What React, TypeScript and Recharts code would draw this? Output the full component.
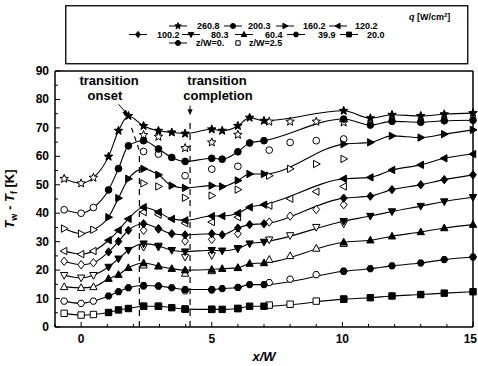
import React from 'react';
import { ComposedChart, Line, Scatter, XAxis, YAxis, ReferenceLine, ReferenceDot, Legend } from 'recharts';

const FONT = '"Liberation Sans", Arial, sans-serif';

// x/W stations of the z/W = 0 curves and of the z/W = 2.5 symbols
const lineX = [-0.65, 0, 0.47, 1.05, 1.43, 1.81, 2.39, 2.96, 3.47, 3.98, 5.0, 5.4, 6.0, 6.45, 7.0, 10.05, 11.07, 11.9, 13.0, 13.9, 15.0];
const openX = [2.39, 2.96, 3.98, 5.0, 6.0, 7.2, 8.0, 9.0, 10.05];

const qLabels = ['260.8', '200.3', '160.2', '120.2', '100.2', '80.3', '60.4', '39.9', '20.0'];
const xTicks = [-1, 0, 1, 2, 3, 4, 5, 6, 7, 8, 9, 10, 11, 12, 13, 14, 15];
const yTicks = [0, 5, 10, 15, 20, 25, 30, 35, 40, 45, 50, 55, 60, 65, 70, 75, 80, 85, 90];

// Tw - Tf [K] at z/W = 0
const q260 = [52.1, 50.5, 52.5, 59.9, 69.0, 74.2, 70.7, 69.0, 68.4, 68.0, 69.5, 69.0, 70.7, 73.6, 72.5, 76.0, 73.4, 74.6, 74.2, 74.8, 75.2];
const q200 = [41.2, 40.0, 42.0, 48.2, 55.7, 63.7, 65.5, 62.6, 59.6, 58.2, 59.3, 59.0, 61.6, 64.7, 65.5, 73.1, 71.0, 72.3, 72.0, 72.5, 72.7];
const q160 = [34.6, 32.8, 34.2, 38.6, 45.3, 52.1, 55.6, 53.5, 49.7, 48.9, 49.7, 49.4, 51.5, 53.8, 53.8, 64.3, 64.9, 67.2, 66.6, 67.8, 69.3];
const q120 = [26.7, 25.6, 26.7, 30.5, 34.0, 38.0, 42.1, 40.4, 38.0, 37.5, 39.0, 39.0, 40.0, 42.1, 43.0, 52.1, 52.6, 55.2, 57.0, 59.3, 60.8];
const q100 = [23.1, 21.9, 22.6, 26.4, 30.1, 34.0, 36.3, 34.6, 32.8, 32.4, 32.8, 32.4, 34.8, 36.0, 36.3, 45.3, 46.0, 48.3, 50.0, 51.8, 53.5];
const q80 = [18.2, 17.3, 18.2, 21.1, 24.0, 27.0, 29.3, 28.5, 27.0, 26.5, 27.0, 26.8, 27.6, 29.3, 29.9, 37.2, 39.0, 40.6, 42.5, 44.1, 45.6];
const q60 = [14.1, 13.8, 14.1, 17.0, 18.4, 20.8, 22.5, 21.4, 20.5, 20.0, 20.2, 20.5, 20.8, 22.3, 22.5, 29.8, 30.5, 31.9, 33.4, 34.8, 36.0];
const q40 = [9.1, 8.3, 9.1, 10.9, 12.4, 13.8, 14.6, 14.4, 13.8, 13.2, 13.2, 13.5, 13.9, 14.9, 14.9, 19.6, 20.5, 21.5, 22.5, 23.7, 24.6];
const q20 = [4.8, 4.2, 4.4, 5.1, 6.0, 6.5, 7.3, 7.3, 6.8, 6.3, 6.2, 6.2, 6.5, 7.3, 7.3, 9.8, 10.3, 10.9, 11.4, 11.9, 12.4];

// Tw - Tf [K] at z/W = 2.5 (open symbols)
const q260o = [67.5, 66.9, 62.9, 64.9, 67.6, 72.2, 72.2, 72.2, 71.9];
const q200o = [61.7, 60.8, 53.2, 55.5, 56.5, 62.2, 64.9, 65.5, 66.1];
const q160o = [50.5, 49.4, 45.4, 46.2, 48.3, 53.2, 55.6, 57.3, 59.1];
const q120o = [40.4, 39.5, 36.5, 36.9, 38.6, 42.7, 45.1, 47.6, 49.4];
const q100o = [34.0, 34.4, 30.2, 30.8, 32.8, 36.9, 39.0, 41.3, 43.0];
const q80o = [28.1, 28.1, 24.6, 25.2, 27.6, 30.7, 32.2, 35.1, 36.3];
const q60o = [21.7, 21.4, 18.8, 19.7, 20.8, 23.7, 25.0, 27.6, 29.3];
const q40o = [14.4, 14.4, 12.7, 13.0, 13.9, 15.6, 16.8, 18.4, 19.6];
const q20o = [7.3, 7.3, 6.3, 6.2, 6.5, 7.7, 8.0, 9.1, 9.8];

const shapes = ['star', 'circle', 'triRight', 'triLeft', 'diamond', 'triDown', 'tri', 'hex', 'square'];
const lineVals = [q260, q200, q160, q120, q100, q80, q60, q40, q20];
const openVals = [q260o, q200o, q160o, q120o, q100o, q80o, q60o, q40o, q20o];

const series = qLabels.map((q, i) => ({
  q,
  shape: shapes[i],
  line: lineX.map((x, j) => ({ x, y: lineVals[i][j] })),
  open: openX.map((x, j) => ({ x, y: openVals[i][j] })),
}));

function markerPath(shape: string, cx: number, cy: number, r: number) {
  switch (shape) {
    case 'square':
      return `M${cx - r},${cy - r}h${2 * r}v${2 * r}h${-2 * r}Z`;
    case 'tri':
      return `M${cx},${cy - r * 1.25}L${cx + r * 1.15},${cy + r * 0.85}L${cx - r * 1.15},${cy + r * 0.85}Z`;
    case 'triDown':
      return `M${cx},${cy + r * 1.25}L${cx + r * 1.15},${cy - r * 0.85}L${cx - r * 1.15},${cy - r * 0.85}Z`;
    case 'triLeft':
      return `M${cx - r * 1.25},${cy}L${cx + r * 0.85},${cy - r * 1.15}L${cx + r * 0.85},${cy + r * 1.15}Z`;
    case 'triRight':
      return `M${cx + r * 1.25},${cy}L${cx - r * 0.85},${cy - r * 1.15}L${cx - r * 0.85},${cy + r * 1.15}Z`;
    case 'diamond':
      return `M${cx},${cy - r * 1.3}L${cx + r * 1.05},${cy}L${cx},${cy + r * 1.3}L${cx - r * 1.05},${cy}Z`;
    case 'hex': {
      let d = '';
      for (let k = 0; k < 6; k++) {
        const a = (Math.PI / 3) * k;
        d += `${k ? 'L' : 'M'}${cx + r * 1.1 * Math.cos(a)},${cy + r * 1.1 * Math.sin(a)}`;
      }
      return d + 'Z';
    }
    case 'star': {
      let d = '';
      for (let k = 0; k < 10; k++) {
        const a = -Math.PI / 2 + (Math.PI / 5) * k;
        const rr = k % 2 === 0 ? r * 1.4 : r * 0.6;
        d += `${k ? 'L' : 'M'}${cx + rr * Math.cos(a)},${cy + rr * Math.sin(a)}`;
      }
      return d + 'Z';
    }
    default:
      return '';
  }
}

const Marker = ({ cx, cy, shape, open, r = 3.2 }: any) => {
  if (cx == null || cy == null) return null;
  const fill = open ? '#fff' : '#000';
  if (shape === 'circle') {
    return <circle cx={cx} cy={cy} r={r * 1.05} fill={fill} stroke="#000" strokeWidth={1} />;
  }
  return <path d={markerPath(shape, cx, cy, r)} fill={fill} stroke="#000" strokeWidth={1} />;
};

const BottomTick = ({ x, y, payload }: any) => {
  const major = payload.value % 5 === 0;
  const last = payload.value === 15;
  return (
    <g>
      <line x1={x} x2={x} y1={y} y2={y - (major ? 5 : 3)} stroke="#000" />
      {major && (
        <text x={last ? x + 4 : x} y={y + 16} textAnchor={last ? 'end' : 'middle'} fontSize={12} fontWeight="bold" fontFamily={FONT} fill="#000">
          {payload.value}
        </text>
      )}
    </g>
  );
};

const TopTick = ({ x, y, payload }: any) => {
  const major = payload.value % 5 === 0;
  return <line x1={x} x2={x} y1={y} y2={y + (major ? 5 : 3)} stroke="#000" />;
};

const LeftTick = ({ x, y, payload }: any) => {
  const major = payload.value % 10 === 0;
  return (
    <g>
      <line x1={x} x2={x + (major ? 5 : 3)} y1={y} y2={y} stroke="#000" />
      {major && (
        <text x={x - 6} y={y + 4} textAnchor="end" fontSize={12} fontWeight="bold" fontFamily={FONT} fill="#000">
          {payload.value}
        </text>
      )}
    </g>
  );
};

const RightTick = ({ x, y, payload }: any) => {
  const major = payload.value % 10 === 0;
  return <line x1={x} x2={x - (major ? 5 : 3)} y1={y} y2={y} stroke="#000" />;
};

const YLabel = ({ viewBox }: any) => {
  const cx = viewBox.x + 14;
  const cy = viewBox.y + viewBox.height / 2;
  return (
    <text x={cx} y={cy} transform={`rotate(-90 ${cx} ${cy})`} textAnchor="middle" fontSize={13} fontWeight="bold" fontFamily={FONT} fill="#000">
      <tspan fontStyle="italic">T</tspan>
      <tspan fontSize={9} dy={3}>w</tspan>
      <tspan dy={-3}> - </tspan>
      <tspan fontStyle="italic">T</tspan>
      <tspan fontSize={9} dy={3}>f</tspan>
      <tspan dy={-3}> [K]</tspan>
    </text>
  );
};

const XLabel = ({ viewBox }: any) => (
  <text x={viewBox.x + viewBox.width / 2} y={viewBox.y + 34} textAnchor="middle" fontSize={13} fontWeight="bold" fontStyle="italic" fontFamily={FONT} fill="#000">
    x/W
  </text>
);

const LegendBox = () => {
  const rows = [
    { y: 21, items: [[0, 113, 132], [1, 168, 183], [2, 220, 238], [3, 273, 290]] },
    { y: 29.5, items: [[4, 73, 92], [5, 126, 146], [6, 179, 200], [7, 231, 253], [8, 284, 302]] },
  ];
  const txt = { fontSize: 9, fontWeight: 'bold' as const, fontFamily: FONT, fill: '#000' };
  return (
    <svg width={404} height={60} style={{ display: 'block' }}>
      <rect x={0.75} y={0.75} width={402} height={58} fill="#fff" stroke="#000" strokeWidth={1.3} />
      <text x={344} y={15} {...txt}>
        <tspan fontStyle="italic">q</tspan> [W/cm
        <tspan fontSize={6} dy={-3}>2</tspan>
        <tspan dy={3}>]</tspan>
      </text>
      {rows.map((row) =>
        row.items.map(([i, mc, tx]) => (
          <g key={i}>
            <line x1={mc - 9} x2={mc + 9} y1={row.y} y2={row.y} stroke="#000" strokeWidth={1} />
            <Marker cx={mc} cy={row.y} shape={shapes[i]} r={2.4} />
            <text x={tx} y={row.y + 3.2} {...txt}>{qLabels[i]}</text>
          </g>
        ))
      )}
      <line x1={104} x2={122} y1={38} y2={38} stroke="#000" strokeWidth={1} />
      <Marker cx={113} cy={38} shape="circle" r={2.4} />
      <text x={131} y={41.2} {...txt}>z/W=0.</text>
      <Marker cx={173} cy={38} shape="square" r={2.2} open />
      <text x={184} y={41.2} {...txt}>z/W=2.5</text>
    </svg>
  );
};

const arrowHead = (angle: number) => (p: any) => (
  <path d="M0,0 L-6,-2.6 L-6,2.6 Z" transform={`translate(${p.cx},${p.cy}) rotate(${angle})`} fill="#000" />
);

const note = (label: string) => (p: any) => (
  <text x={p.cx} y={p.cy} textAnchor="middle" fontSize={13} fontWeight="bold" fontFamily={FONT} fill="#000">
    {label}
  </text>
);

export default function App() {
  return (
    <div style={{ position: 'absolute', left: 0, top: 0, background: '#fff' }}>
      <ComposedChart width={478} height={366} margin={{ top: 66, right: 0, bottom: 0, left: 0 }}>
        <XAxis
          dataKey="x"
          type="number"
          domain={[-1, 15]}
          ticks={xTicks}
          interval={0}
          height={39}
          tickSize={0}
          tickMargin={0}
          tickLine={false}
          tick={<BottomTick />}
          axisLine={{ stroke: '#000', strokeWidth: 1.5 }}
          label={<XLabel />}
        />
        <XAxis
          xAxisId="top"
          orientation="top"
          type="number"
          domain={[-1, 15]}
          ticks={xTicks}
          interval={0}
          height={5}
          tickSize={0}
          tickMargin={0}
          tickLine={false}
          tick={<TopTick />}
          axisLine={{ stroke: '#000', strokeWidth: 1.5 }}
        />
        <YAxis
          dataKey="y"
          type="number"
          domain={[0, 90]}
          ticks={yTicks}
          interval={0}
          width={55}
          tickSize={0}
          tickMargin={0}
          tickLine={false}
          tick={<LeftTick />}
          axisLine={{ stroke: '#000', strokeWidth: 1.5 }}
          label={<YLabel />}
        />
        <YAxis
          yAxisId="right"
          orientation="right"
          type="number"
          domain={[0, 90]}
          ticks={yTicks}
          interval={0}
          width={5}
          tickSize={0}
          tickMargin={0}
          tickLine={false}
          tick={<RightTick />}
          axisLine={{ stroke: '#000', strokeWidth: 1.5 }}
        />
        <Legend
          content={() => <LegendBox />}
          layout="horizontal"
          verticalAlign="middle"
          align="center"
          wrapperStyle={{ position: 'absolute', left: 65, top: 5, width: 404, height: 60 }}
        />

        <ReferenceLine segment={[{ x: 2.23, y: 0 }, { x: 2.23, y: 62 }]} stroke="#000" strokeDasharray="6 5" strokeWidth={1.2} ifOverflow="visible" />
        <ReferenceLine segment={[{ x: 1.93, y: 70 }, { x: 2.23, y: 62 }]} stroke="#000" strokeDasharray="5 4" strokeWidth={1.2} ifOverflow="visible" />
        <ReferenceLine segment={[{ x: 4.17, y: 0 }, { x: 4.17, y: 72 }]} stroke="#000" strokeDasharray="6 5" strokeWidth={1.2} ifOverflow="visible" />
        <ReferenceLine segment={[{ x: 1.43, y: 78.3 }, { x: 1.75, y: 75 }]} stroke="#000" strokeWidth={1} ifOverflow="visible" />
        <ReferenceLine segment={[{ x: 4.17, y: 77.8 }, { x: 4.17, y: 75.5 }]} stroke="#000" strokeWidth={1} ifOverflow="visible" />
        <ReferenceDot x={1.8} y={74.3} shape={arrowHead(48)} ifOverflow="visible" />
        <ReferenceDot x={4.17} y={74.4} shape={arrowHead(90)} ifOverflow="visible" />
        <ReferenceDot x={1.07} y={85.1} shape={note('transition')} ifOverflow="visible" />
        <ReferenceDot x={0.91} y={79.8} shape={note('onset')} ifOverflow="visible" />
        <ReferenceDot x={5.2} y={85.1} shape={note('transition')} ifOverflow="visible" />
        <ReferenceDot x={5.24} y={79.8} shape={note('completion')} ifOverflow="visible" />

        {series.map((s) => (
          <Line
            key={`l-${s.q}`}
            data={s.line}
            dataKey="y"
            type="monotone"
            stroke="#000"
            strokeWidth={1.1}
            dot={(p: any) => <Marker key={`d-${s.q}-${p.index}`} cx={p.cx} cy={p.cy} shape={s.shape} open={p.payload.x < 1} />}
            activeDot={false}
            legendType="none"
            isAnimationActive={false}
          />
        ))}
        {series.map((s) => (
          <Scatter
            key={`s-${s.q}`}
            data={s.open}
            dataKey="y"
            shape={(p: any) => <Marker cx={p.cx} cy={p.cy} shape={s.shape} open />}
            legendType="none"
            isAnimationActive={false}
          />
        ))}
      </ComposedChart>
    </div>
  );
}
